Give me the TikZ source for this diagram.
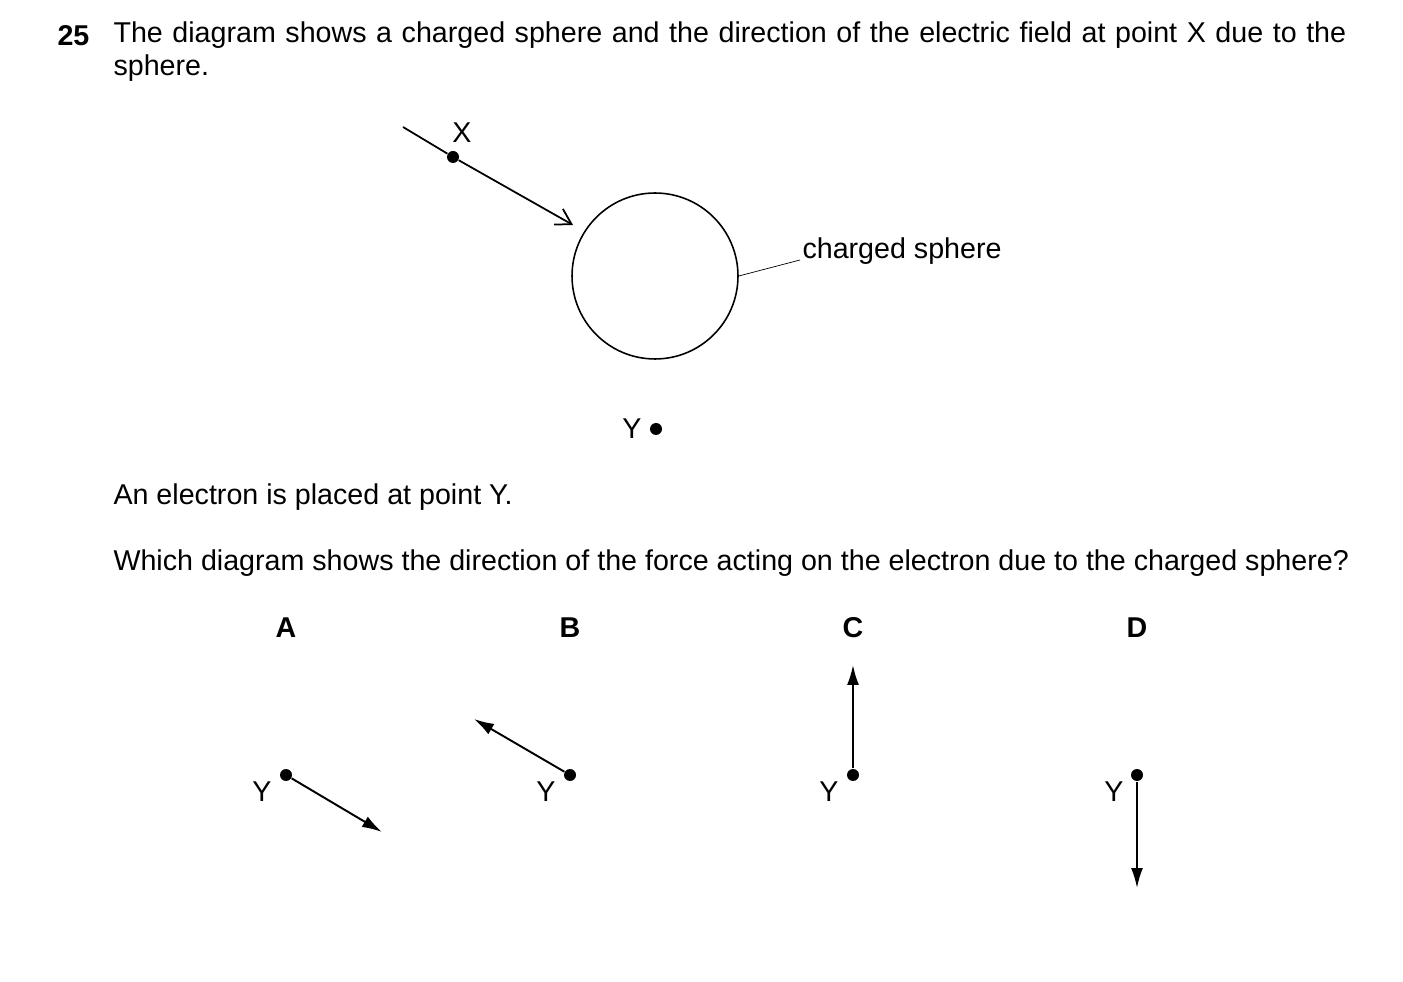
\documentclass[tikz,border=0pt]{standalone}
\usepackage{fontspec}
\setmainfont{Liberation Sans}
\usetikzlibrary{arrows.meta,positioning}

\begin{document}
\begin{tikzpicture}[x=0.02cm,y=-0.02cm,semithick,
                    font=\fontsize{16.3pt}{19pt}\selectfont]
\tikzset{dot/.style={circle,fill=black,inner sep=0pt,minimum size=0.24cm},
         txt/.style={inner sep=0pt,anchor=west},
         lbl/.style={inner sep=0pt,font=\fontsize{16.3pt}{19pt}\selectfont\bfseries},
         force/.style={line width=1.1pt,-{Latex[length=0.4cm,width=0.24cm]}}}

  \useasboundingbox (0,0) rectangle (1403,982);

        % question text
        \node[txt,font=\fontsize{16.3pt}{19pt}\selectfont\bfseries] (num) at (57,36) {25};
        \node[inner sep=0pt,anchor=north west,text width=24.66cm,align=justify,
              font=\fontsize{16.3pt}{18.8pt}\selectfont] (q) at (113,21)
             {The diagram shows a charged sphere and the direction of the electric field at point X due to the\linebreak sphere.};

        % sphere and field at X
        \node[dot] (X) at (453,157) {};
        \node[inner sep=0pt] (lX) at (462,133) {X};
        \coordinate (f0) at (403,127);
        \coordinate (f1) at (573,225);
        \node[circle,draw,line width=0.9pt,minimum size=3.32cm,inner sep=0pt] (S) at (655,276) {};
        \node[txt] (lS) at (802,251) {charged sphere};
        \coordinate (lead) at (800,260);
        \node[dot] (Y) at (656,429) {};
        \node[inner sep=0pt] (lY) at (632,429) {Y};

        \draw[line width=1pt] (f0) -- (X);
        \draw[line width=1pt,-{Straight Barb[length=0.3cm,width=0.36cm]}] (X) -- (f1);
        \draw[thin] (S.east) -- (lead);

        \node[txt] (t1) at (113,497) {An electron is placed at point Y.};
        \node[txt] (t2) at (113,563) {Which diagram shows the direction of the force acting on the electron due to the charged sphere?};

        % options
        \node[lbl] (A) at (286,628) {A};
        \node[lbl] (B) at (570,628) {B};
        \node[lbl] (C) at (853,628) {C};
        \node[lbl] (D) at (1137,628) {D};

        \node[dot] (yA) at (286,775) {};
        \node[dot] (yB) at (570,775) {};
        \node[dot] (yC) at (853,775) {};
        \node[dot] (yD) at (1137,775) {};
        \node[inner sep=0pt] at (262,792) {Y};
        \node[inner sep=0pt] at (546,792) {Y};
        \node[inner sep=0pt] at (829,792) {Y};
        \node[inner sep=0pt] at (1114,792) {Y};

        \coordinate (eA) at (382,832);
        \coordinate (eB) at (474,719);
        \coordinate (eC) at (853,665);
        \coordinate (eD) at (1137,888);

        \draw[force] (yA) -- (eA);
        \draw[force] (yB) -- (eB);
        \draw[force] (yC) -- (eC);
        \draw[force] (yD) -- (eD);

\end{tikzpicture}
\end{document}
